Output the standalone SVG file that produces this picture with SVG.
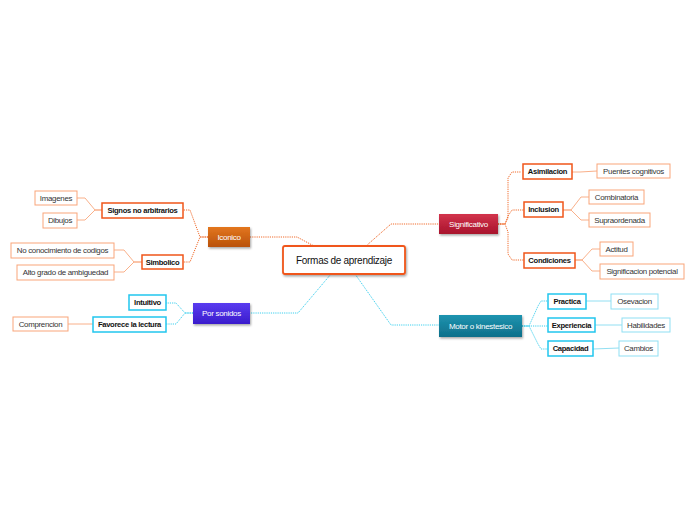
<svg xmlns="http://www.w3.org/2000/svg" width="696" height="520" viewBox="0 0 696 520">
<defs>
<linearGradient id="gOr" x1="0" y1="0" x2="0" y2="1"><stop offset="0" stop-color="#e3761f"/><stop offset="1" stop-color="#b9520a"/></linearGradient>
<linearGradient id="gRed" x1="0" y1="0" x2="0" y2="1"><stop offset="0" stop-color="#d2344c"/><stop offset="1" stop-color="#a8132c"/></linearGradient>
<linearGradient id="gTeal" x1="0" y1="0" x2="0" y2="1"><stop offset="0" stop-color="#1f94b0"/><stop offset="1" stop-color="#0d6f8a"/></linearGradient>
<linearGradient id="gPur" x1="0" y1="0" x2="0" y2="1"><stop offset="0" stop-color="#5a3cf0"/><stop offset="1" stop-color="#3a1ccc"/></linearGradient>
<filter id="sh" x="-20%" y="-30%" width="140%" height="170%"><feDropShadow dx="1" dy="1.5" stdDeviation="1" flood-color="#000" flood-opacity="0.35"/></filter>
</defs>
<style>
text{font-family:"Liberation Sans",Arial,sans-serif;text-anchor:middle;dominant-baseline:central;letter-spacing:-0.3px}
.leaf{font-size:7.9px;fill:#333}
.l2{font-size:7.6px;font-weight:bold;fill:#111}
.main{font-size:8px;fill:#fff}
.lo{fill:#fff;stroke:#f9a57a;stroke-width:1}
.o2{fill:#fff;stroke:#f0561a;stroke-width:1.5}
.lc{fill:#fff;stroke:#8fdff3;stroke-width:1}
.c2{fill:#fff;stroke:#22c6ee;stroke-width:1.5}
.co{fill:none;stroke:#f06a2a;stroke-width:1;stroke-dasharray:1.2 1}
.cos{fill:none;stroke:#f9b08a;stroke-width:1}
.cc{fill:none;stroke:#3ccfee;stroke-width:1;stroke-dasharray:1.2 1}
.ccs{fill:none;stroke:#92dff2;stroke-width:1}
</style>
<g id="connectors">
<path class="co" d="M250,237 H297 L314,246"/>
<path class="co" d="M366,246 L391,224 H439"/>
<path class="cc" d="M355,274 L391,325 H439"/>
<path class="cc" d="M331,274 L298,313 H250"/>
<path class="co" d="M208,237 H200 L190,210 H183"/>
<path class="co" d="M208,237 H200 L190,262 H183"/>
<path class="cos" d="M102,210 H95 L85,198 H77"/>
<path class="cos" d="M102,210 H95 L85,220 H77"/>
<path class="cos" d="M142,262 H134 L124,250 H114"/>
<path class="cos" d="M142,262 H134 L124,272 H114"/>
<path class="co" d="M498,224 H505 L508,218 V178 L512,172 H521"/>
<path class="co" d="M498,224 H505 L508,216 L512,210 H524"/>
<path class="co" d="M498,224 H505 L508,232 V254 L512,260 H524"/>
<path class="cos" d="M572,172 H580 L597,171"/>
<path class="cos" d="M563,210 H571 L581,197 H589"/>
<path class="cos" d="M563,210 H571 L581,220 H589"/>
<path class="cos" d="M575,260 H582 L592,249 H600"/>
<path class="cos" d="M575,260 H582 L592,271 H600"/>
<path class="cc" d="M522,326 H529 L538,306 L541,301 H548"/>
<path class="cc" d="M522,326 H548"/>
<path class="cc" d="M522,326 H529 L538,344 L541,349 H548"/>
<path class="ccs" d="M586,301 L611,301"/>
<path class="ccs" d="M595,325 L622,325"/>
<path class="ccs" d="M593,349 L619,348"/>
<path class="cc" d="M193,313 H185 L176,303 H166"/>
<path class="cc" d="M193,313 H185 L176,324 H166"/>
<path class="cos" d="M68,324 H93"/>
</g>
<g id="central"><rect x="283" y="246" width="122" height="28" rx="2" fill="#fff" stroke="#f0561a" stroke-width="1.8" filter="url(#sh)"/><text x="344" y="260.5" style="font-size:10px;fill:#111">Formas de aprendizaje</text></g>
<g id="iconico"><rect x="208" y="227" width="42" height="20" fill="url(#gOr)" filter="url(#sh)"/><text class="main" x="229" y="237">Iconico</text></g>
<g id="significativo"><rect x="439" y="214" width="59" height="20" fill="url(#gRed)" filter="url(#sh)"/><text class="main" x="468.5" y="224">Significativo</text></g>
<g id="motor"><rect x="439" y="315" width="83" height="22" fill="url(#gTeal)" filter="url(#sh)"/><text class="main" x="480.5" y="326">Motor o kinestesico</text></g>
<g id="porsonidos"><rect x="193" y="303" width="57" height="21" fill="url(#gPur)" filter="url(#sh)"/><text class="main" x="221.5" y="313.5">Por sonidos</text></g>
<g id="signos"><rect class="o2" x="102" y="203" width="81" height="15"/><text class="l2" x="142.5" y="210.5">Signos no arbitrarios</text></g>
<g id="simbolico"><rect class="o2" x="142" y="255" width="41" height="14"/><text class="l2" x="162.5" y="262">Simbolico</text></g>
<g id="imagenes"><rect class="lo" x="35" y="191" width="42" height="14"/><text class="leaf" x="56" y="198">Imagenes</text></g>
<g id="dibujos"><rect class="lo" x="43" y="213" width="34" height="15"/><text class="leaf" x="60" y="220.5">Dibujos</text></g>
<g id="noconoc"><rect class="lo" x="11" y="243" width="103" height="15"/><text class="leaf" x="62.5" y="250.5">No conocimiento de codigos</text></g>
<g id="alto"><rect class="lo" x="17" y="265" width="97" height="15"/><text class="leaf" x="65.5" y="272.5">Alto grado de ambiguedad</text></g>
<g id="asimilacion"><rect class="o2" x="523" y="164" width="49" height="15"/><text class="l2" x="547.5" y="171.5">Asimilacion</text></g>
<g id="inclusion"><rect class="o2" x="524" y="202" width="39" height="15"/><text class="l2" x="543.5" y="209.5">Inclusion</text></g>
<g id="condiciones"><rect class="o2" x="524" y="253" width="51" height="15"/><text class="l2" x="549.5" y="260.5">Condiciones</text></g>
<g id="puentes"><rect class="lo" x="597" y="164" width="73" height="14"/><text class="leaf" x="633.5" y="171">Puentes cognitivos</text></g>
<g id="combinatoria"><rect class="lo" x="589" y="190" width="55" height="14"/><text class="leaf" x="616.5" y="197">Combinatoria</text></g>
<g id="supraordenada"><rect class="lo" x="589" y="213" width="61" height="14"/><text class="leaf" x="619.5" y="220">Supraordenada</text></g>
<g id="actitud"><rect class="lo" x="600" y="242" width="33" height="14"/><text class="leaf" x="616.5" y="249">Actitud</text></g>
<g id="signifpot"><rect class="lo" x="600" y="264" width="84" height="15"/><text class="leaf" x="642" y="271.5">Significacion potencial</text></g>
<g id="practica"><rect class="c2" x="548" y="294" width="38" height="15"/><text class="l2" x="567" y="301.5">Practica</text></g>
<g id="experiencia"><rect class="c2" x="548" y="318" width="47" height="14"/><text class="l2" x="571.5" y="325">Experiencia</text></g>
<g id="capacidad"><rect class="c2" x="548" y="341" width="45" height="15"/><text class="l2" x="570.5" y="348.5">Capacidad</text></g>
<g id="osevacion"><rect class="lc" x="611" y="294" width="47" height="15"/><text class="leaf" x="634.5" y="301.5">Osevacion</text></g>
<g id="habilidades"><rect class="lc" x="622" y="318" width="48" height="14"/><text class="leaf" x="646" y="325">Habilidades</text></g>
<g id="cambios"><rect class="lc" x="619" y="341" width="39" height="15"/><text class="leaf" x="638.5" y="348.5">Cambios</text></g>
<g id="intuitivo"><rect class="c2" x="129" y="295" width="37" height="15"/><text class="l2" x="147.5" y="302.5">Intuitivo</text></g>
<g id="favorece"><rect class="c2" x="93" y="317" width="73" height="15"/><text class="l2" x="129.5" y="324.5">Favorece la lectura</text></g>
<g id="comprencion"><rect class="lo" x="13" y="317" width="55" height="14"/><text class="leaf" x="40.5" y="324">Comprencion</text></g>
</svg>
